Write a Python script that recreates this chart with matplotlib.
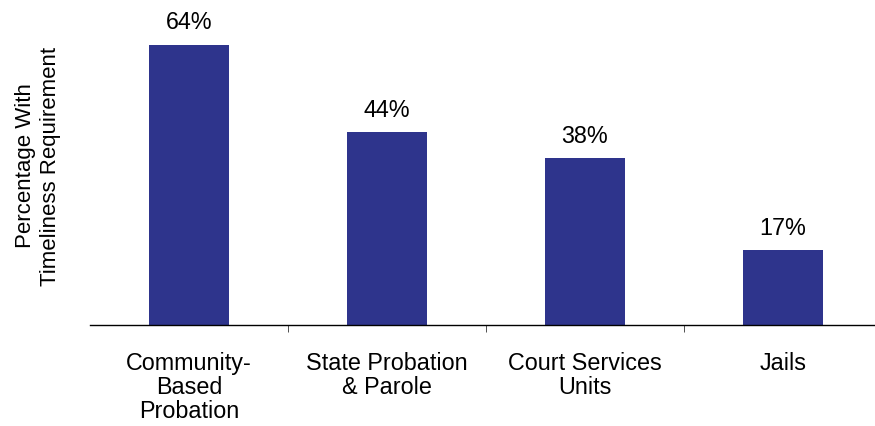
import matplotlib.pyplot as plt
import numpy as np

plt.rcParams['font.family'] = ['Liberation Sans', 'DejaVu Sans']

categories = ["Community-\nBased\nProbation", "State Probation\n& Parole",
              "Court Services\nUnits", "Jails"]
values = [64, 44, 38, 17]
labels = ["64%", "44%", "38%", "17%"]

fig = plt.figure(figsize=(8.75, 4.26), dpi=100)
ax = fig.add_axes([90 / 875, 1 - 324.5 / 426, 792 / 875, 314 / 426])

x = np.arange(len(values))
ax.bar(x, values, width=0.405, color="#2E348C")
for xi, v, t in zip(x, values, labels):
    ax.text(xi, v + 2.4, t, ha="center", va="bottom", fontsize=16.8)

ax.set_xlim(-0.5, 3.5)
ax.set_ylim(0, 71.8)
ax.set_yticks([])
ax.set_xticks(x)
ax.set_xticklabels(categories, fontsize=16.8, linespacing=1.06)
ax.tick_params(axis="x", which="major", length=0, pad=20)
ax.set_xticks([0.5, 1.5, 2.5], minor=True)
ax.tick_params(axis="x", which="minor", length=5, direction="out", color="#333333")
for s in ["top", "right", "left"]:
    ax.spines[s].set_visible(False)
ax.spines["bottom"].set_linewidth(1.0)

fig.text(38 / 875, 1 - 166 / 426, "Percentage With\nTimeliness Requirement",
         rotation=90, ha="center", va="center", fontsize=16, linespacing=1.3)

fig.savefig("out.png", dpi=100)
